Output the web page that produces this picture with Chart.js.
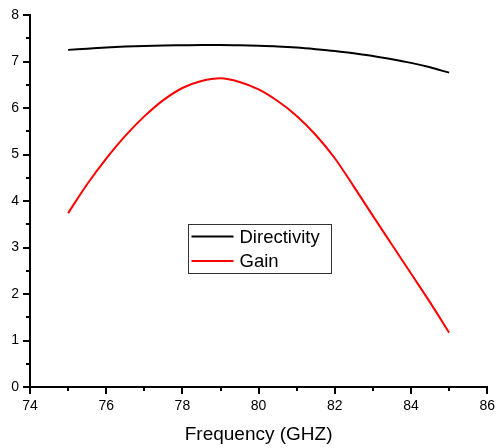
<!DOCTYPE html>
<html>
<head>
<meta charset="utf-8">
<script src="https://cdn.jsdelivr.net/npm/chart.js@4/dist/chart.umd.min.js"></script>
<style>
  html, body { margin: 0; padding: 0; background: #fff; }
  #wrap { width: 499px; height: 448px; }
</style>
</head>
<body>
<div id="wrap"><canvas id="chart" width="499" height="448"></canvas></div>
<script>
const frequency = [75, 75.5, 76, 76.5, 77, 77.5, 78, 78.5, 79, 79.5, 80,
                   80.5, 81, 81.5, 82, 82.5, 83, 83.5, 84, 84.5, 85];
const directivity = [7.25, 7.275, 7.30, 7.32, 7.335, 7.345, 7.35, 7.355, 7.355, 7.35, 7.34,
                     7.325, 7.30, 7.265, 7.225, 7.175, 7.12, 7.05, 6.97, 6.875, 6.76];
const gain = [3.74, 4.36, 4.91, 5.40, 5.82, 6.17, 6.43, 6.58, 6.64, 6.56, 6.40,
              6.15, 5.83, 5.42, 4.92, 4.31, 3.68, 3.06, 2.44, 1.82, 1.17];
const xMinorTicks = [75, 77, 79, 81, 83, 85];
const yMinorTicks = [0.5, 1.5, 2.5, 3.5, 4.5, 5.5, 6.5, 7.5];

const FONT = 'Liberation Sans, Arial, sans-serif';

// small outward minor ticks on both axes
const minorTicks = {
  id: 'minorTicks',
  afterDraw(chart) {
    const { ctx, scales: { x, y } } = chart;
    ctx.save();
    ctx.strokeStyle = '#000';
    ctx.lineWidth = 2;
    ctx.beginPath();
    xMinorTicks.forEach(v => {
      const px = Math.round(x.getPixelForValue(v));
      ctx.moveTo(px, y.bottom);
      ctx.lineTo(px, y.bottom + 4);
    });
    yMinorTicks.forEach(v => {
      const py = Math.round(y.getPixelForValue(v));
      ctx.moveTo(x.left - 4, py);
      ctx.lineTo(x.left, py);
    });
    ctx.stroke();
    ctx.restore();
  }
};

// boxed legend sitting inside the plot
const boxLegend = {
  id: 'boxLegend',
  afterDraw(chart) {
    const { ctx, scales: { x, y } } = chart;
    const left = Math.round(x.getPixelForValue(78.15)) + 0.5;
    const top = Math.round(y.getPixelForValue(3.515)) + 0.5;
    const w = 143, h = 49;
    ctx.save();
    ctx.fillStyle = '#fff';
    ctx.fillRect(left, top, w, h);
    ctx.strokeStyle = '#333';
    ctx.lineWidth = 1;
    ctx.strokeRect(left, top, w, h);
    ctx.font = '18.5px ' + FONT;
    ctx.textBaseline = 'middle';
    chart.data.datasets.forEach((ds, i) => {
      const ly = top + 12 + i * 24.5;
      ctx.strokeStyle = ds.borderColor;
      ctx.lineWidth = 2;
      ctx.beginPath();
      ctx.moveTo(left + 3, ly);
      ctx.lineTo(left + 45, ly);
      ctx.stroke();
      ctx.fillStyle = '#000';
      ctx.fillText(ds.label, left + 51, ly + 1);
    });
    ctx.restore();
  }
};

new Chart(document.getElementById('chart'), {
  type: 'line',
  data: {
    labels: frequency,
    datasets: [
      {
        label: 'Directivity',
        data: frequency.map((f, i) => ({ x: f, y: directivity[i] })),
        borderColor: '#000000',
        borderWidth: 2,
        pointRadius: 0,
        cubicInterpolationMode: 'monotone'
      },
      {
        label: 'Gain',
        data: frequency.map((f, i) => ({ x: f, y: gain[i] })),
        borderColor: '#ff0000',
        borderWidth: 2,
        pointRadius: 0,
        cubicInterpolationMode: 'monotone'
      }
    ]
  },
  options: {
    responsive: false,
    animation: false,
    layout: { padding: { left: 0, right: 8, top: 15, bottom: 0 } },
    plugins: {
      legend: { display: false },
      tooltip: { enabled: false }
    },
    scales: {
      x: {
        type: 'linear',
        min: 74,
        max: 86,
        afterFit: s => { s.height = 61; },
        ticks: {
          stepSize: 2,
          color: '#000',
          padding: 4,
          font: { family: FONT, size: 14 }
        },
        grid: {
          drawOnChartArea: false,
          drawTicks: true,
          tickLength: 7,
          color: '#000',
          lineWidth: 2
        },
        border: { display: true, color: '#000', width: 2 },
        title: {
          display: true,
          text: 'Frequency (GHZ)',
          color: '#000',
          font: { family: FONT, size: 19, lineHeight: 1.2 },
          padding: { top: 0, bottom: 2 }
        }
      },
      y: {
        min: 0,
        max: 8,
        afterFit: s => { s.width = 30; },
        ticks: {
          stepSize: 1,
          color: '#000',
          padding: 4,
          font: { family: FONT, size: 14 }
        },
        grid: {
          drawOnChartArea: false,
          drawTicks: true,
          tickLength: 7,
          color: '#000',
          lineWidth: 2
        },
        border: { display: true, color: '#000', width: 2 }
      }
    }
  },
  plugins: [minorTicks, boxLegend]
});
</script>
</body>
</html>
